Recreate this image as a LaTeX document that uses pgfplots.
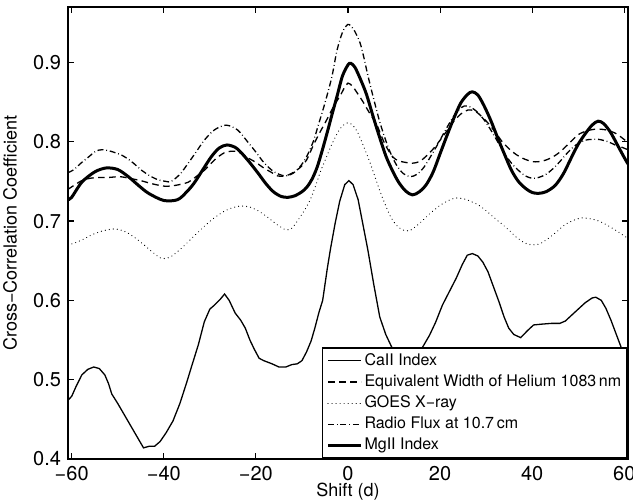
\documentclass[border=0pt]{standalone}
\usepackage{pgfplots}
\pgfplotsset{compat=1.18}
\usepackage{fontspec}
\setmainfont{TeX Gyre Heros}
\begin{document}
\begin{tikzpicture}
\begin{axis}[
 scale only axis, width=280pt, height=226pt,
 xmin=-60.8, xmax=60.8, ymin=0.4, ymax=0.97,
 xtick={-60,-40,-20,0,20,40,60}, xticklabels={−60,−40,−20,0,20,40,60},
 ytick={0.4,0.5,0.6,0.7,0.8,0.9}, yticklabels={0.4,0.5,0.6,0.7,0.8,0.9},
 tick align=inside, major tick length=2.8pt,
 tick style={black, line width=0.6pt},
 axis line style={line width=0.7pt},
 ticklabel style={font=\fontsize{10}{12}\selectfont},
 xlabel={Shift (d)}, ylabel={Cross−Correlation Coefficient},
 every axis x label/.style={at={(axis description cs:0.5,-0.073)},anchor=center,font=\fontsize{9}{11}\selectfont},
 every axis y label/.style={at={(axis description cs:-0.1036,0.5)},rotate=90,anchor=center,font=\fontsize{9}{11}\selectfont},
 legend style={at={(1,0)}, anchor=south east, draw=black, line width=0.8pt, fill=white, inner xsep=2pt, inner ysep=1pt, font=\fontsize{8}{10}\selectfont, row sep=0pt, nodes={inner xsep=1pt, inner ysep=1.3pt, text height=6.2pt, text depth=1.8pt}},
 legend cell align=left,
 legend image code/.code={\draw[#1] (0pt,0pt) -- (16.5pt,0pt);},
]
\coordinate (SW) at (rel axis cs:0,0);
\coordinate (NE) at (rel axis cs:1,1);
% CaII Index
\addplot[black, line width=0.65pt] coordinates {
(-60.8,0.474) (-60,0.479) (-59,0.492) (-57.8,0.506) (-56.5,0.513) (-55.2,0.516) (-54,0.514) (-52.8,0.506) (-52,0.495) (-51.3,0.482) (-50,0.470) (-48.5,0.455) (-47,0.440) (-45.5,0.425) (-44.4,0.414) (-43.2,0.416) (-42,0.416) (-40.8,0.422) (-39.5,0.433) (-38,0.448) (-36.5,0.470) (-35,0.497) (-34,0.516) (-32.5,0.544) (-31.2,0.573) (-30,0.589) (-29,0.594) (-27.8,0.601) (-26.8,0.608) (-25.8,0.600) (-24.5,0.584) (-23.3,0.575) (-22.3,0.565) (-21.3,0.550) (-20.4,0.539) (-19.3,0.527) (-18.3,0.524) (-16.5,0.520) (-15,0.516) (-13.5,0.516) (-12.2,0.519) (-11,0.520) (-10,0.524) (-9,0.535) (-8,0.549) (-7.2,0.565) (-6.3,0.585) (-5.5,0.600) (-4.5,0.640) (-3.8,0.665) (-2.8,0.697) (-1.8,0.725) (-0.7,0.746) (0.2,0.751) (1.1,0.746) (2.2,0.727) (3.2,0.697) (4.3,0.664) (5.6,0.620) (6.9,0.579) (8.2,0.557) (9.5,0.541) (11,0.525) (12.5,0.518) (14,0.522) (15.3,0.534) (16.2,0.541) (17.7,0.556) (19,0.572) (20.5,0.594) (22,0.611) (23.5,0.628) (24.8,0.645) (25.9,0.657) (27,0.659) (28.2,0.656) (29.3,0.648) (30.4,0.636) (31.6,0.617) (32.8,0.598) (33.9,0.579) (34.9,0.565) (36,0.557) (37.5,0.553) (39,0.562) (40.3,0.569) (42,0.570) (44.2,0.571) (46,0.571) (47.2,0.574) (48.5,0.581) (50,0.589) (51.5,0.597) (53,0.603) (53.8,0.604) (55,0.600) (56,0.590) (57.1,0.575) (58.2,0.558) (59.3,0.541) (60.8,0.522)
};
\addlegendentry{CaII Index}
% Helium EW
\addplot[black, line width=0.65pt, dash pattern=on 3.3pt off 2.2pt, smooth] coordinates {
(-60.8,0.740) (-59.5,0.745) (-57.8,0.751) (-56,0.754) (-54,0.755) (-52,0.755) (-49.6,0.756) (-47.5,0.754) (-45,0.751) (-42.5,0.747) (-39.8,0.744) (-37.5,0.745) (-34.7,0.749) (-33,0.756) (-31.2,0.764) (-29.7,0.773) (-28.2,0.781) (-26.5,0.787) (-24.5,0.788) (-23,0.785) (-21.8,0.780) (-20,0.774) (-18.3,0.767) (-16.5,0.761) (-15.3,0.757) (-13.5,0.757) (-12,0.761) (-10.5,0.767) (-9,0.777) (-7.5,0.796) (-6,0.813) (-4.5,0.829) (-3,0.846) (-1.7,0.858) (-0.8,0.868) (0,0.874) (0.8,0.871) (1.5,0.866) (2.4,0.858) (3.2,0.851) (4.5,0.838) (6.2,0.822) (7.2,0.808) (8.2,0.795) (9.7,0.781) (11,0.776) (12.5,0.774) (14,0.773) (15.5,0.775) (17,0.782) (18.5,0.791) (20,0.802) (21.5,0.814) (23,0.826) (24.5,0.835) (26,0.840) (27.5,0.839) (29,0.832) (30.5,0.823) (32,0.812) (33.5,0.800) (35,0.791) (36.5,0.784) (38,0.779) (40,0.775) (41.5,0.775) (43,0.777) (44.5,0.781) (46,0.787) (48,0.798) (50,0.809) (52,0.814) (54,0.816) (56,0.815) (58,0.811) (59.5,0.805) (60.8,0.799)
};
\addlegendentry{Equivalent Width of Helium 1083\,nm}
% GOES X-ray
\addplot[black, line width=0.6pt, line cap=round, dash pattern=on 0.01pt off 2pt, smooth] coordinates {
(-60.8,0.670) (-59.5,0.672) (-57.5,0.677) (-55.5,0.683) (-53,0.688) (-50.6,0.690) (-48.5,0.687) (-46.5,0.680) (-44.5,0.671) (-42.5,0.661) (-40.5,0.653) (-38.5,0.655) (-36.5,0.664) (-34.5,0.675) (-32,0.689) (-29.5,0.702) (-27,0.712) (-25,0.717) (-23.3,0.719) (-21.5,0.718) (-19.5,0.713) (-17.5,0.705) (-15.5,0.696) (-13.5,0.689) (-12.2,0.691) (-11,0.700) (-9.5,0.713) (-8.2,0.727) (-7,0.745) (-6,0.762) (-4.8,0.779) (-3.5,0.797) (-2,0.814) (-1,0.821) (0,0.824) (1,0.821) (2,0.813) (3.2,0.797) (4.5,0.778) (5.5,0.762) (6.8,0.740) (8,0.722) (9.3,0.705) (10.5,0.695) (11.8,0.689) (13.4,0.688) (15.5,0.697) (17.5,0.708) (19.8,0.719) (21.5,0.725) (23.3,0.729) (25.2,0.728) (27,0.724) (28.4,0.720) (30,0.713) (32,0.703) (34.3,0.692) (36.5,0.680) (38.5,0.672) (40,0.670) (41.5,0.671) (43,0.676) (45,0.685) (47,0.695) (49,0.701) (50.7,0.704) (52.5,0.703) (54.5,0.700) (56.5,0.694) (58.5,0.687) (60.8,0.678)
};
\addlegendentry{GOES X−ray}
% Radio flux
\addplot[black, line width=0.65pt, dash pattern=on 3pt off 1.4pt on 0.4pt off 1.4pt, smooth] coordinates {
(-60.8,0.761) (-59.5,0.765) (-58,0.773) (-56.3,0.781) (-54.8,0.788) (-53.4,0.790) (-51.5,0.788) (-49.1,0.783) (-47,0.775) (-44.8,0.764) (-43,0.757) (-41.2,0.752) (-39.5,0.750) (-38.4,0.750) (-36.5,0.759) (-34.7,0.773) (-33,0.787) (-31.2,0.802) (-29,0.815) (-26.5,0.821) (-24,0.815) (-21.8,0.800) (-20,0.787) (-18.3,0.774) (-16.5,0.764) (-15,0.759) (-13.5,0.757) (-12,0.760) (-10.5,0.768) (-9,0.781) (-7.5,0.801) (-6.5,0.820) (-5,0.849) (-3.5,0.882) (-2.4,0.915) (-1.2,0.938) (0,0.948) (1.2,0.942) (2.6,0.925) (3.5,0.905) (4.3,0.884) (5.8,0.849) (6.9,0.825) (8,0.805) (9,0.789) (10.5,0.771) (12,0.760) (13.5,0.756) (15,0.759) (16.5,0.768) (18,0.782) (19.5,0.797) (21,0.813) (22.5,0.828) (24,0.840) (25.2,0.845) (26.5,0.844) (28,0.838) (29.5,0.828) (31,0.815) (32.5,0.800) (34,0.785) (35.5,0.773) (37,0.764) (38.5,0.757) (40,0.754) (41.4,0.755) (43,0.759) (44.5,0.766) (46,0.775) (47.8,0.787) (49.5,0.796) (51.5,0.802) (53,0.803) (54.5,0.803) (56.5,0.800) (58,0.796) (59.5,0.793) (60.8,0.790)
};
\addlegendentry{Radio Flux at 10.7\,cm}
% MgII Index
\addplot[black, line width=1.5pt, smooth] coordinates {
(-60.8,0.727) (-60,0.730) (-57.8,0.749) (-55,0.762) (-52.5,0.767) (-50,0.765) (-47.7,0.756) (-45.5,0.745) (-43.3,0.735) (-40,0.726) (-37,0.727) (-35,0.737) (-33.4,0.748) (-31.5,0.765) (-29.7,0.781) (-28,0.792) (-26.3,0.796) (-24.5,0.793) (-23.3,0.787) (-21.5,0.775) (-19.6,0.761) (-17.8,0.747) (-16.2,0.737) (-14.5,0.731) (-13,0.730) (-11.5,0.732) (-10,0.737) (-8.9,0.743) (-7.8,0.753) (-6.7,0.768) (-5.6,0.789) (-4.5,0.812) (-3.4,0.836) (-2.4,0.857) (-1.2,0.883) (0,0.897) (0.6,0.899) (1.5,0.894) (2.7,0.879) (4,0.860) (5.5,0.831) (6.9,0.805) (8.3,0.781) (9.7,0.763) (11,0.749) (12.5,0.738) (14,0.733) (15.5,0.737) (17,0.746) (18.5,0.762) (20,0.785) (21.5,0.808) (23,0.830) (24.5,0.849) (26,0.860) (27,0.863) (28.2,0.859) (29.5,0.846) (31,0.827) (32.5,0.805) (34,0.784) (35.5,0.764) (37,0.750) (38.6,0.741) (40,0.736) (41.4,0.735) (43,0.737) (45,0.745) (46.8,0.760) (48.5,0.780) (50,0.797) (51.5,0.810) (53,0.821) (54.3,0.826) (55.5,0.823) (57,0.812) (58.6,0.795) (60,0.780) (60.8,0.772)
};
\addlegendentry{MgII Index}
\end{axis}
\pgfresetboundingbox
\path ([shift={(-34pt,-22.5pt)}]SW) rectangle ([shift={(2.5pt,3.5pt)}]NE);
\end{tikzpicture}
\end{document}
